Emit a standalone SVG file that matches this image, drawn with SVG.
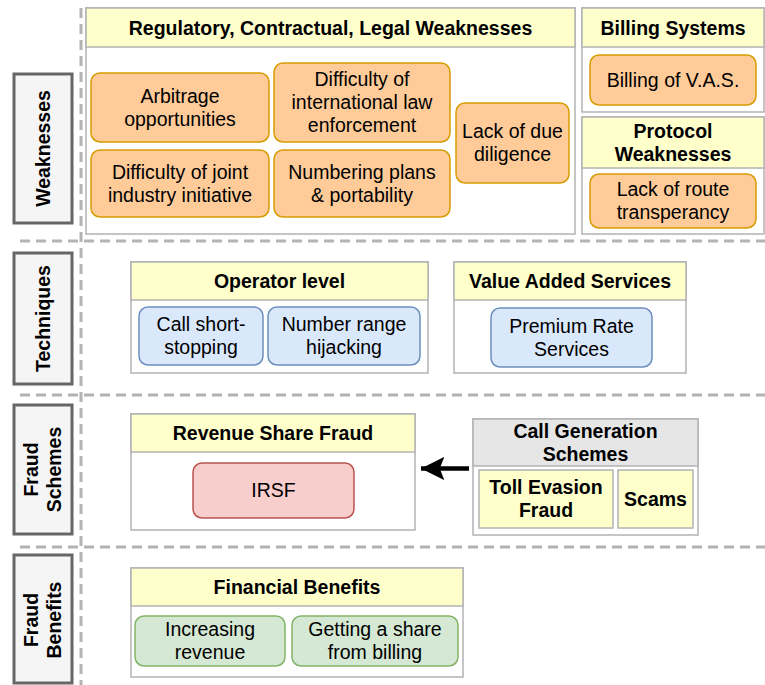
<svg xmlns="http://www.w3.org/2000/svg" width="765" height="685" viewBox="0 0 765 685">
<style>
text{font-family:"Liberation Sans",Arial,sans-serif;font-size:19.5px;fill:#000;text-anchor:middle}
.b{font-weight:bold}
.lane{fill:#f5f5f5;stroke:#666;stroke-width:3}
.cont{fill:#fff;stroke:#b3b3b3;stroke-width:1.5}
.hdr{fill:#ffffcc;stroke:#b3b3b3;stroke-width:1.5}
.hdrg{fill:#e6e6e6;stroke:#b3b3b3;stroke-width:1.5}
.or{fill:#ffcc99;stroke:#d79b00;stroke-width:1.5}
.bl{fill:#dae8fc;stroke:#6c8ebf;stroke-width:1.5}
.rd{fill:#f8cecc;stroke:#b85450;stroke-width:1.5}
.gr{fill:#d5e8d4;stroke:#82b366;stroke-width:1.5}
.yl{fill:#ffffcc;stroke:#b3b3b3;stroke-width:1.5}
.dash{fill:none;stroke:#b3b3b3;stroke-width:3;stroke-dasharray:10 6}
</style>
<defs>
<marker id="ah" viewBox="0 0 10 10" refX="10" refY="5" markerWidth="5.2" markerHeight="5.2" orient="auto" markerUnits="strokeWidth">
<path d="M0,0 L10,5 L0,10 L2,5 Z" fill="#000"/>
</marker>
</defs>
<g id="lanes">
<path class="dash" d="M81,8 V685"/>
<path class="dash" d="M20,241 H765"/>
<path class="dash" d="M20,395 H765"/>
<path class="dash" d="M20,547 H765"/>
</g>
<g id="lane-weaknesses">
<rect class="lane" x="14" y="74" width="58" height="149"/>
<text class="b" x="43" y="155" transform="rotate(-90 43 148.5)">Weaknesses</text>
</g>
<g id="lane-techniques">
<rect class="lane" x="14" y="253" width="58" height="131"/>
<text class="b" x="43" y="325" transform="rotate(-90 43 318.5)">Techniques</text>
</g>
<g id="lane-schemes">
<rect class="lane" x="14" y="405" width="58" height="129"/>
<text class="b" transform="rotate(-90 43 469.5)"><tspan x="43" y="464.5">Fraud</tspan><tspan x="43" y="487.5">Schemes</tspan></text>
</g>
<g id="lane-benefits">
<rect class="lane" x="14" y="555" width="58" height="128"/>
<text class="b" transform="rotate(-90 43 620)"><tspan x="43" y="615">Fraud</tspan><tspan x="43" y="638">Benefits</tspan></text>
</g>

<g id="regulatory">
<rect class="cont" x="86" y="8" width="489" height="226"/>
<rect class="hdr" x="86" y="8" width="489" height="39"/>
<text class="b" x="330.5" y="34.5">Regulatory, Contractual, Legal Weaknesses</text>
</g>
<g id="arbitrage">
<rect class="or" x="91" y="73" width="178" height="69" rx="9"/>
<text><tspan x="180" y="102.5">Arbitrage</tspan><tspan x="180" y="125.5">opportunities</tspan></text>
</g>
<g id="joint">
<rect class="or" x="91" y="150" width="178" height="67" rx="9"/>
<text><tspan x="180" y="178.5">Difficulty of joint</tspan><tspan x="180" y="201.5">industry initiative</tspan></text>
</g>
<g id="intl-law">
<rect class="or" x="274" y="63" width="176" height="79" rx="9"/>
<text><tspan x="362" y="86">Difficulty of</tspan><tspan x="362" y="109">international law</tspan><tspan x="362" y="132">enforcement</tspan></text>
</g>
<g id="numbering">
<rect class="or" x="274" y="150" width="176" height="67" rx="9"/>
<text><tspan x="362" y="178.5">Numbering plans</tspan><tspan x="362" y="201.5">&amp; portability</tspan></text>
</g>
<g id="due-diligence">
<rect class="or" x="456" y="103" width="113" height="80" rx="9"/>
<text><tspan x="512.5" y="138">Lack of due</tspan><tspan x="512.5" y="161">diligence</tspan></text>
</g>
<g id="billing">
<rect class="cont" x="582" y="8" width="182" height="104"/>
<rect class="hdr" x="582" y="8" width="182" height="39"/>
<text class="b" x="673" y="34.5">Billing Systems</text>
</g>
<g id="billing-vas">
<rect class="or" x="590" y="55" width="166" height="50" rx="9"/>
<text x="673" y="87">Billing of V.A.S.</text>
</g>
<g id="protocol">
<rect class="cont" x="582" y="117" width="182" height="117"/>
<rect class="hdr" x="582" y="117" width="182" height="51"/>
<text class="b"><tspan x="673" y="137.5">Protocol</tspan><tspan x="673" y="160.5">Weaknesses</tspan></text>
</g>
<g id="route">
<rect class="or" x="590" y="174" width="166" height="54" rx="9"/>
<text><tspan x="673" y="196">Lack of route</tspan><tspan x="673" y="219">transperancy</tspan></text>
</g>

<g id="operator">
<rect class="cont" x="131" y="262" width="297" height="111"/>
<rect class="hdr" x="131" y="262" width="297" height="38"/>
<text class="b" x="279.5" y="288">Operator level</text>
</g>
<g id="short-stopping">
<rect class="bl" x="139" y="307" width="124" height="58" rx="9"/>
<text><tspan x="201" y="331">Call short-</tspan><tspan x="201" y="354">stopping</tspan></text>
</g>
<g id="hijacking">
<rect class="bl" x="268" y="307" width="152" height="58" rx="9"/>
<text><tspan x="344" y="331">Number range</tspan><tspan x="344" y="354">hijacking</tspan></text>
</g>
<g id="vas">
<rect class="cont" x="454" y="262" width="232" height="111"/>
<rect class="hdr" x="454" y="262" width="232" height="38"/>
<text class="b" x="570" y="288">Value Added Services</text>
</g>
<g id="premium">
<rect class="bl" x="491" y="308" width="161" height="59" rx="9"/>
<text><tspan x="571.5" y="332.5">Premium Rate</tspan><tspan x="571.5" y="355.5">Services</tspan></text>
</g>

<g id="rsf">
<rect class="cont" x="131" y="414" width="284" height="116"/>
<rect class="hdr" x="131" y="414" width="284" height="38"/>
<text class="b" x="273" y="440">Revenue Share Fraud</text>
</g>
<g id="irsf">
<rect class="rd" x="193" y="463" width="161" height="55" rx="9"/>
<text x="273.5" y="497">IRSF</text>
</g>
<g id="cgs">
<rect class="cont" x="473" y="419" width="225" height="116"/>
<rect class="hdrg" x="473" y="419" width="225" height="47"/>
<text class="b"><tspan x="585.5" y="437.5">Call Generation</tspan><tspan x="585.5" y="460.5">Schemes</tspan></text>
</g>
<g id="toll">
<rect class="yl" x="479" y="470" width="134" height="58"/>
<text class="b"><tspan x="546" y="494">Toll Evasion</tspan><tspan x="546" y="517">Fraud</tspan></text>
</g>
<g id="scams">
<rect class="yl" x="618" y="470" width="75" height="58"/>
<text class="b" x="655.5" y="505.5">Scams</text>
</g>

<g id="financial">
<rect class="cont" x="131" y="568" width="332" height="109"/>
<rect class="hdr" x="131" y="568" width="332" height="38"/>
<text class="b" x="297" y="594">Financial Benefits</text>
</g>
<g id="increasing">
<rect class="gr" x="135" y="616" width="150" height="50" rx="9"/>
<text><tspan x="210" y="636">Increasing</tspan><tspan x="210" y="659">revenue</tspan></text>
</g>
<g id="share">
<rect class="gr" x="292" y="616" width="166" height="50" rx="9"/>
<text><tspan x="375" y="636">Getting a share</tspan><tspan x="375" y="659">from billing</tspan></text>
</g>

<g id="connectors">
<path d="M469,468.5 H421" stroke="#000" stroke-width="4.5" fill="none" marker-end="url(#ah)"/>
</g>
</svg>
